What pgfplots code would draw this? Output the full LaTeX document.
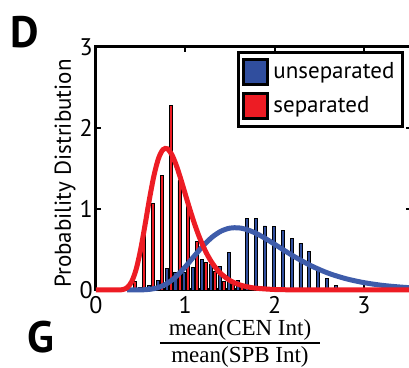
\documentclass[border=0pt]{standalone}
\usepackage{fontspec}
\setmainfont{PT Sans}
\newfontfamily\serifx{Liberation Serif}
\usepackage{pgfplots}
\pgfplotsset{compat=1.18}
\definecolor{bblue}{RGB}{48,78,158}
\definecolor{cblue}{RGB}{62,92,170}
\definecolor{rred}{RGB}{237,28,36}
\pgfplotstableread{
x y
0.49 0.03
0.59 0.05
0.69 0.12
0.79 0.27
0.89 0.22
0.99 0.22
1.09 0.28
1.19 0.38
1.29 0.31
1.39 0.29
1.49 0.46
1.59 0.12
1.69 0.885
1.79 0.885
1.89 0.79
1.99 0.78
2.09 0.74
2.19 0.64
2.29 0.58
2.39 0.47
2.49 0.28
2.59 0.14
2.69 0.06
2.79 0.02
}\unsepbars
\pgfplotstableread{
x y
0.435 0.11
0.535 0.72
0.635 1.07
0.735 1.41
0.835 2.28
0.935 1.35
1.035 1.05
1.135 0.60
1.235 0.34
1.335 0.23
1.435 0.11
1.535 0.07
1.635 0.03
1.735 0.01
}\sepbars
\pgfplotstableread{
x y
0.35 0
0.4 0.0001
0.5 0.0012
0.6 0.008
0.7 0.031
0.8 0.083
0.9 0.169
1.0 0.286
1.1 0.418
1.2 0.545
1.3 0.652
1.4 0.726
1.5 0.764
1.6 0.767
1.7 0.742
1.8 0.695
1.9 0.634
2.0 0.565
2.2 0.426
2.4 0.304
2.6 0.208
2.8 0.139
3.0 0.091
3.2 0.058
3.4 0.037
3.53 0.027
}\unsepfit
\pgfplotstableread{
x y
0 0
0.2 0
0.25 0.0005
0.3 0.005
0.35 0.030
0.4 0.104
0.45 0.257
0.5 0.500
0.55 0.808
0.6 1.131
0.65 1.417
0.7 1.624
0.75 1.733
0.8 1.743
0.85 1.670
0.9 1.537
0.95 1.368
1.0 1.183
1.05 1.000
1.1 0.828
1.15 0.674
1.2 0.541
1.25 0.428
1.3 0.335
1.35 0.260
1.4 0.200
1.5 0.117
1.6 0.067
1.7 0.038
1.8 0.021
2.0 0.006
2.2 0.002
2.5 0.0003
3.0 0
3.53 0
}\sepfit
\begin{document}
\begin{tikzpicture}
\begin{axis}[
  at={(0,0)}, anchor=south west,
  scale only axis, width=157.6pt, height=121.5pt,
  xmin=0, xmax=3.53, ymin=0, ymax=3,
  xtick={0,1,2,3}, ytick={0,1,2,3},
  tick align=inside, major tick length=2.5pt,
  axis line style={line width=1.5pt},
  every tick/.style={black, line width=1pt},
  tick label style={font=\fontsize{12}{12}\selectfont, inner sep=1pt},
  xticklabel style={yshift=-2pt},
  yticklabel style={xshift=-0.5pt},
  /pgf/number format/assume math mode=true,
  clip=false,
  legend style={at={(0.977,0.984)}, anchor=north east, draw=black, line width=1.5pt,
    font=\fontsize{11.5}{11.5}\selectfont, inner xsep=2pt, inner ysep=3pt,
    row sep=3pt, cells={anchor=west}},
  legend image code/.code={\fill[#1] (0pt,-6.25pt) rectangle (12pt,6.25pt);},
]
\addplot[ybar, bar width=0.034, bar shift=0pt, fill=bblue, draw=black, line width=0.45pt, forget plot] table {\unsepbars};
\addplot[ybar, bar width=0.034, bar shift=0pt, fill=rred, draw=black, line width=0.45pt, forget plot] table {\sepbars};
\addplot[cblue, line width=2.5pt, smooth, no markers, forget plot] table {\unsepfit};
\addplot[rred, line width=2.5pt, smooth, no markers, forget plot] table {\sepfit};
\addlegendimage{fill=bblue}
\addlegendentry{unseparated}
\addlegendimage{fill=rred}
\addlegendentry{separated}
\end{axis}
\node[font=\fontsize{22}{22}\selectfont\bfseries] at (-35.5pt,129pt) {D};
\node[font=\fontsize{22}{22}\selectfont\bfseries] at (-27.5pt,-23.5pt) {G};
\node[rotate=90, font=\fontsize{11.5}{11.5}\selectfont] at (-15.5pt,58.25pt) {Probability Distribution};
\node[font=\serifx\fontsize{11.5}{11.5}\selectfont] at (72pt,-20pt) {mean(CEN Int)};
\draw[line width=1.3pt] (32pt,-26.5pt) -- (112pt,-26.5pt);
\node[font=\serifx\fontsize{11.5}{11.5}\selectfont] at (72pt,-33.5pt) {mean(SPB Int)};
\pgfresetboundingbox
\useasboundingbox (-48pt,-39pt) rectangle (156.5pt,145pt);
\end{tikzpicture}
\end{document}
